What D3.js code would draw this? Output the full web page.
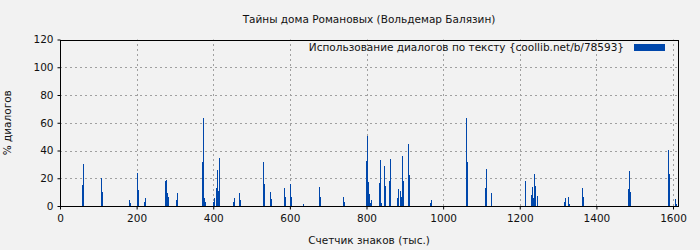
<!DOCTYPE html>
<html>
<head>
<meta charset="utf-8">
<script src="https://cdn.jsdelivr.net/npm/d3@7/dist/d3.min.js"></script>
<style>
  body { margin: 0; background: #f2f2f2; }
  text { font-family: "DejaVu Sans", sans-serif; fill: #111; }
</style>
</head>
<body>
<div></div>
<script>
var width = 700, height = 250;
var margin = {top: 39.5, right: 22, bottom: 44, left: 60};

var title = "Тайны дома Романовых (Вольдемар Балязин)";
var legendLabel = "Использование диалогов по тексту {coollib.net/b/78593}";
var xTitle = "Счетчик знаков (тыс.)";
var yTitle = "% диалогов";

var xTicks = [0, 200, 400, 600, 800, 1000, 1200, 1400, 1600];
var yTicks = [0, 20, 40, 60, 80, 100, 120];
var binWidth = 2.61; // thousand chars per bar

// position of each bar (thousand chars) and share of dialogue (%)
var position = [
  56.6, 59.3, 106.2, 108.8, 179.3, 181.9, 202.0, 204.6, 220.3, 222.9,
  273.3, 275.9, 278.5, 281.1, 302.0, 304.6,
  369.9, 372.5, 375.1, 377.7, 398.6, 401.2, 406.4, 409.0, 411.6, 414.2,
  450.8, 453.4, 466.4, 469.0, 529.1, 531.7, 547.8, 550.4,
  584.4, 587.1, 600.1, 602.7, 634.1, 675.3, 678.0, 737.9, 740.5,
  797.9, 800.5, 803.1, 805.7, 808.4, 811.0,
  831.9, 834.5, 837.1, 844.9, 847.5, 860.0, 862.6,
  880.4, 883.0, 888.3, 890.9, 893.5, 896.1, 909.1, 911.8,
  966.5, 969.1, 1059.0, 1061.6, 1108.5, 1111.1, 1124.2,
  1213.0, 1228.7, 1231.3, 1233.9, 1236.5, 1239.1, 1244.3,
  1314.8, 1317.4, 1325.2, 1327.8, 1361.8, 1364.4,
  1481.9, 1484.5, 1487.1, 1586.3, 1588.9, 1604.6, 1607.2
];
var percent = [
  15.1, 30.2, 19.9, 10.1, 4.3, 2.2, 23.5, 11.5, 2.9, 5.8,
  18.2, 18.7, 9.4, 6.5, 4.3, 9.4,
  31.7, 63.3, 5.8, 2.9, 2.9, 5.8, 12.9, 25.9, 10.8, 34.5,
  2.9, 5.8, 9.4, 4.3, 31.7, 15.8, 10.1, 5.0,
  12.9, 6.5, 15.8, 6.5, 1.4, 13.7, 6.5, 6.5, 2.9,
  32.4, 50.4, 17.3, 8.6, 2.2, 4.3,
  16.5, 33.1, 2.2, 28.8, 14.4, 18.0, 33.8,
  5.8, 12.2, 10.8, 6.5, 36.0, 18.0, 44.6, 22.3,
  2.2, 4.3, 63.3, 31.7, 12.9, 26.6, 9.4,
  18.0, 7.9, 13.7, 5.8, 23.0, 14.4, 7.2,
  2.9, 5.8, 6.5, 1.4, 12.9, 6.5,
  12.2, 25.2, 10.1, 40.3, 23.0, 5.0, 1.4
];

var bars = position.map(function(p, i) { return {x: p, v: percent[i]}; });

var svg = d3.select("div").append("svg")
    .attr("width", width)
    .attr("height", height);

svg.append("rect")
    .attr("width", width)
    .attr("height", height)
    .style("fill", "#f2f2f2");

var x = d3.scaleLinear()
    .domain([0, 1613])
    .range([margin.left, width - margin.right]);

var y = d3.scaleLinear()
    .domain([0, 120])
    .range([height - margin.bottom, margin.top]);

// grid
svg.append("g")
    .selectAll("line")
    .data(yTicks.slice(1, -1))
  .enter().append("line")
    .attr("x1", x.range()[0]).attr("x2", x.range()[1])
    .attr("y1", function(d) { return Math.round(y(d)) + 0.5; })
    .attr("y2", function(d) { return Math.round(y(d)) + 0.5; })
    .style("stroke", "#a0a0a0")
    .style("stroke-dasharray", "2,3");

svg.append("g")
    .selectAll("line")
    .data(xTicks.slice(1))
  .enter().append("line")
    .attr("x1", function(d) { return Math.round(x(d)) + 0.5; })
    .attr("x2", function(d) { return Math.round(x(d)) + 0.5; })
    .attr("y1", y.range()[0]).attr("y2", y.range()[1])
    .style("stroke", "#a0a0a0")
    .style("stroke-dasharray", "2,3");

// bars
svg.append("g")
    .selectAll("rect")
    .data(bars)
  .enter().append("rect")
    .attr("x", function(d) { return Math.round(x(d.x)); })
    .attr("width", function(d) { return Math.max(1, Math.round(x(d.x + binWidth) - x(d.x))); })
    .attr("y", function(d) { return y(d.v); })
    .attr("height", function(d) { return y(0) - y(d.v); })
    .style("fill", "#0047ab")
    .style("shape-rendering", "crispEdges");

// axes
var xAxis = svg.append("g")
    .attr("transform", "translate(0," + (Math.round(y(0)) + 0.5) + ")")
    .call(d3.axisBottom(x).tickValues(xTicks).tickFormat(d3.format("d")).tickSize(3).tickPadding(5));

var yAxis = svg.append("g")
    .attr("transform", "translate(" + (margin.left + 0.5) + ",0)")
    .call(d3.axisLeft(y).tickValues(yTicks).tickFormat(d3.format("d")).tickSize(3).tickPadding(4));

[xAxis, yAxis].forEach(function(g) {
  g.select(".domain").remove();
  g.selectAll("line").style("stroke", "#000");
  g.selectAll("text").style("font-size", "10.5px").style("font-family", "DejaVu Sans").style("fill", "#111");
});

// frame
svg.append("rect")
    .attr("x", margin.left + 0.5)
    .attr("y", Math.round(margin.top) + 0.5)
    .attr("width", x.range()[1] - margin.left)
    .attr("height", Math.round(y(0)) - Math.round(margin.top))
    .style("fill", "none")
    .style("stroke", "#000");

// titles
svg.append("text")
    .attr("x", (x.range()[0] + x.range()[1]) / 2)
    .attr("y", 23)
    .attr("text-anchor", "middle")
    .style("font-size", "10.5px")
    .text(title);

svg.append("text")
    .attr("x", (x.range()[0] + x.range()[1]) / 2)
    .attr("y", 244)
    .attr("text-anchor", "middle")
    .style("font-size", "10.5px")
    .text(xTitle);

svg.append("text")
    .attr("transform", "translate(11," + ((y.range()[0] + y.range()[1]) / 2) + ") rotate(-90)")
    .attr("text-anchor", "middle")
    .style("font-size", "10.5px")
    .text(yTitle);

// legend
svg.append("text")
    .attr("x", 624)
    .attr("y", 51)
    .attr("text-anchor", "end")
    .style("font-size", "10.5px")
    .text(legendLabel);

svg.append("rect")
    .attr("x", 634)
    .attr("y", 44)
    .attr("width", 31)
    .attr("height", 7)
    .style("fill", "#0047ab");
</script>
</body>
</html>
